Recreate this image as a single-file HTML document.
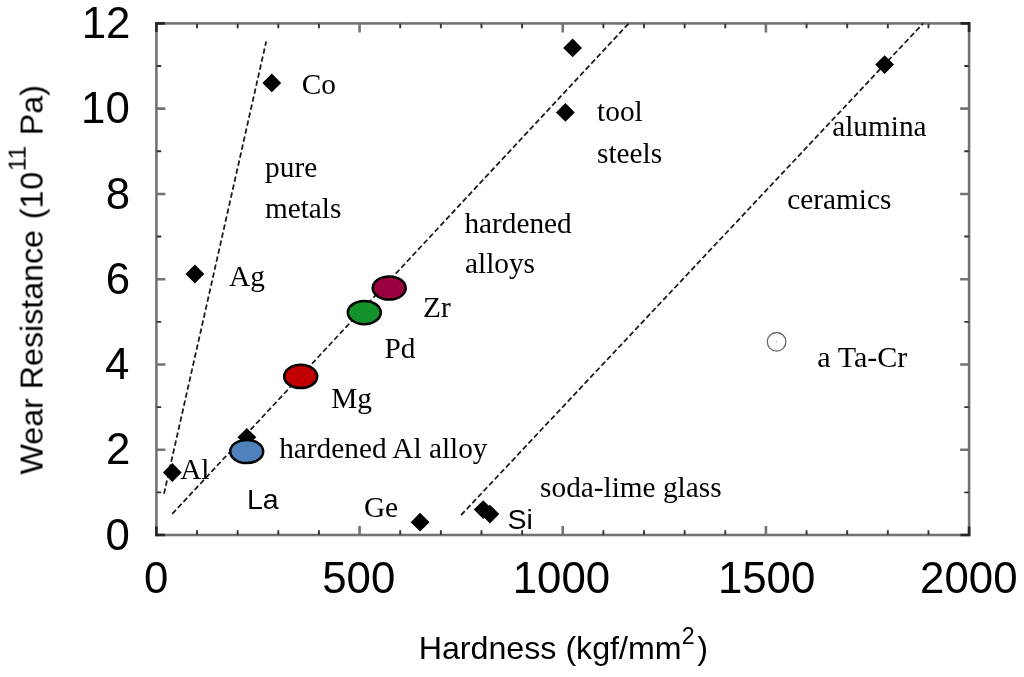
<!DOCTYPE html>
<html lang="en"><head><meta charset="utf-8"><title>Wear Resistance vs Hardness</title>
<style>html,body{margin:0;padding:0;background:#fff;}svg{display:block;}.txt{filter:grayscale(1);}.sans{font-family:"Liberation Sans",Arial,Helvetica,sans-serif;}.serif{font-family:"Liberation Serif","Times New Roman",Times,serif;}</style></head><body>
<svg width="1024" height="677" viewBox="0 0 1024 677">
<rect x="0" y="0" width="1024" height="677" fill="#fff"/>
<rect x="156.4" y="23.4" width="812.70" height="511.60" fill="none" stroke="#737373" stroke-width="2.6"/>
<path d="M359.58 535.00V526.00M359.58 23.40V32.40M562.75 535.00V526.00M562.75 23.40V32.40M765.92 535.00V526.00M765.92 23.40V32.40M156.40 449.73H165.40M969.10 449.73H960.10M156.40 364.47H165.40M969.10 364.47H960.10M156.40 279.20H165.40M969.10 279.20H960.10M156.40 193.93H165.40M969.10 193.93H960.10M156.40 108.67H165.40M969.10 108.67H960.10" stroke="#737373" stroke-width="2.6" fill="none"/>
<path d="M156.40 536.30V526.40M156.40 22.10V32.00M969.10 536.30V526.40M969.10 22.10V32.00M155.10 535.00H165.00M970.40 535.00H960.50M155.10 23.40H165.00M970.40 23.40H960.50" stroke="#262626" stroke-width="2.6" fill="none"/>
<path d="M197.03 534.70V530.20M197.03 23.70V28.20M237.67 534.70V530.20M237.67 23.70V28.20M278.31 534.70V530.20M278.31 23.70V28.20M318.94 534.70V530.20M318.94 23.70V28.20M400.21 534.70V530.20M400.21 23.70V28.20M440.85 534.70V530.20M440.85 23.70V28.20M481.48 534.70V530.20M481.48 23.70V28.20M522.12 534.70V530.20M522.12 23.70V28.20M603.38 534.70V530.20M603.38 23.70V28.20M644.02 534.70V530.20M644.02 23.70V28.20M684.65 534.70V530.20M684.65 23.70V28.20M725.29 534.70V530.20M725.29 23.70V28.20M806.56 534.70V530.20M806.56 23.70V28.20M847.19 534.70V530.20M847.19 23.70V28.20M887.83 534.70V530.20M887.83 23.70V28.20M928.47 534.70V530.20M928.47 23.70V28.20M156.70 492.37H161.20M968.80 492.37H964.30M156.70 407.10H161.20M968.80 407.10H964.30M156.70 321.83H161.20M968.80 321.83H964.30M156.70 236.57H161.20M968.80 236.57H964.30M156.70 151.30H161.20M968.80 151.30H964.30M156.70 66.03H161.20M968.80 66.03H964.30" stroke="#333" stroke-width="1.9" fill="none"/>
<line x1="164.0" y1="493.7" x2="266.2" y2="41.5" stroke="#1a1a1a" stroke-width="1.75" stroke-dasharray="5.4 2.8"/>
<line x1="172.3" y1="513.8" x2="628.6" y2="23.5" stroke="#1a1a1a" stroke-width="1.75" stroke-dasharray="5.4 2.8"/>
<line x1="461.1" y1="515.1" x2="923.1" y2="23.4" stroke="#1a1a1a" stroke-width="1.75" stroke-dasharray="5.4 2.8"/>
<path d="M271.8 73.5L281.2 82.9L271.8 92.3L262.4 82.9ZM194.9 264.6L204.3 274.0L194.9 283.4L185.5 274.0ZM172.3 463.1L181.7 472.5L172.3 481.9L162.9 472.5ZM246.9 427.9L256.3 437.3L246.9 446.7L237.5 437.3ZM420.1 512.8L429.5 522.2L420.1 531.6L410.7 522.2ZM483.2 500.2L492.6 509.6L483.2 519.0L473.8 509.6ZM489.9 504.7L499.3 514.1L489.9 523.5L480.5 514.1ZM572.6 38.5L582.0 47.9L572.6 57.3L563.2 47.9ZM565.4 103.0L574.8 112.4L565.4 121.8L556.0 112.4ZM884.6 55.2L894.0 64.6L884.6 74.0L875.2 64.6Z" fill="#000"/>
<ellipse cx="389.2" cy="288.0" rx="16.5" ry="11.6" fill="#99003d" stroke="#000" stroke-width="2.5"/>
<ellipse cx="364.3" cy="312.6" rx="16.5" ry="11.6" fill="#14922a" stroke="#000" stroke-width="2.5"/>
<ellipse cx="300.7" cy="376.4" rx="16.5" ry="11.6" fill="#c00000" stroke="#000" stroke-width="2.5"/>
<ellipse cx="246.7" cy="451.5" rx="16.5" ry="11.6" fill="#4f81bd" stroke="#000" stroke-width="2.5"/>
<circle cx="776.6" cy="341.8" r="9.3" fill="#fff" stroke="#666" stroke-width="1.3"/>
<circle cx="776.6" cy="341.8" r="0.8" fill="#bbb"/>
<g class="txt">
<text class="sans" x="144.1" y="593.2" font-size="43.8" fill="#000">0</text>
<text class="sans" x="322.2" y="593.2" font-size="43.8" fill="#000">500</text>
<text class="sans" x="512.7" y="593.2" font-size="43.8" fill="#000">1000</text>
<text class="sans" x="717.9" y="593.2" font-size="43.8" fill="#000">1500</text>
<text class="sans" x="920.1" y="593.2" font-size="43.8" fill="#000">2000</text>
<text class="sans" x="105.4" y="549.7" font-size="43.8" fill="#000">0</text>
<text class="sans" x="106.0" y="464.4" font-size="43.8" fill="#000">2</text>
<text class="sans" x="105.0" y="379.2" font-size="43.8" fill="#000">4</text>
<text class="sans" x="105.7" y="293.9" font-size="43.8" fill="#000">6</text>
<text class="sans" x="105.7" y="208.6" font-size="43.8" fill="#000">8</text>
<text class="sans" x="81.1" y="123.4" font-size="43.8" fill="#000">10</text>
<text class="sans" x="81.7" y="38.1" font-size="43.8" fill="#000">12</text>
<text class="sans" x="418.7" y="659.4" font-size="32.2" fill="#000">Hardness (kgf/mm<tspan dy="-15.6" font-size="23.2">2</tspan><tspan dy="15.6" dx="2.6">)</tspan></text>
<text class="sans" transform="translate(42.6,474.5) rotate(-90)" font-size="32.2" fill="#000">Wear Resistance<tspan dx="1.8"> (1</tspan><tspan dx="0.8">0</tspan><tspan dy="-16.6" dx="0.6" font-size="24.6">11</tspan><tspan dy="16.6" dx="1.6"> Pa)</tspan></text>
<text class="serif" x="301.7" y="93.5" font-size="29.3" fill="#000">Co</text>
<text class="serif" x="265.1" y="177.4" font-size="29.3" fill="#000">pure</text>
<text class="serif" x="264.9" y="218.0" font-size="29.3" fill="#000">metals</text>
<text class="serif" x="229.1" y="286.1" font-size="29.3" fill="#000">Ag</text>
<text class="serif" x="423.1" y="317.4" font-size="29.3" fill="#000">Zr</text>
<text class="serif" x="384.5" y="357.6" font-size="29.3" fill="#000">Pd</text>
<text class="serif" x="331.3" y="407.8" font-size="29.3" fill="#000">Mg</text>
<text class="serif" x="180.2" y="478.5" font-size="29.3" fill="#000">Al</text>
<text class="serif" x="279.2" y="457.5" font-size="29.3" fill="#000">hardened Al alloy</text>
<text class="serif" x="363.9" y="517.3" font-size="29.3" fill="#000">Ge</text>
<text class="serif" x="464.4" y="232.6" font-size="29.3" fill="#000">hardened</text>
<text class="serif" x="465.0" y="273.2" font-size="29.3" fill="#000">alloys</text>
<text class="serif" x="597.1" y="121.2" font-size="29.3" fill="#000">tool</text>
<text class="serif" x="597.0" y="163.0" font-size="29.3" fill="#000">steels</text>
<text class="serif" x="832.2" y="136.4" font-size="29.3" fill="#000">alumina</text>
<text class="serif" x="787.3" y="208.7" font-size="29.3" fill="#000">ceramics</text>
<text class="serif" x="817.3" y="367.2" font-size="30.1" fill="#000">a Ta-Cr</text>
<text class="serif" x="540.1" y="497.2" font-size="29.3" fill="#000">soda-lime glass</text>
<text class="sans" x="246.9" y="508.6" font-size="28.5" fill="#000">La</text>
<text class="sans" x="507.5" y="528.9" font-size="28.5" fill="#000">Si</text>
</g>
</svg></body></html>
